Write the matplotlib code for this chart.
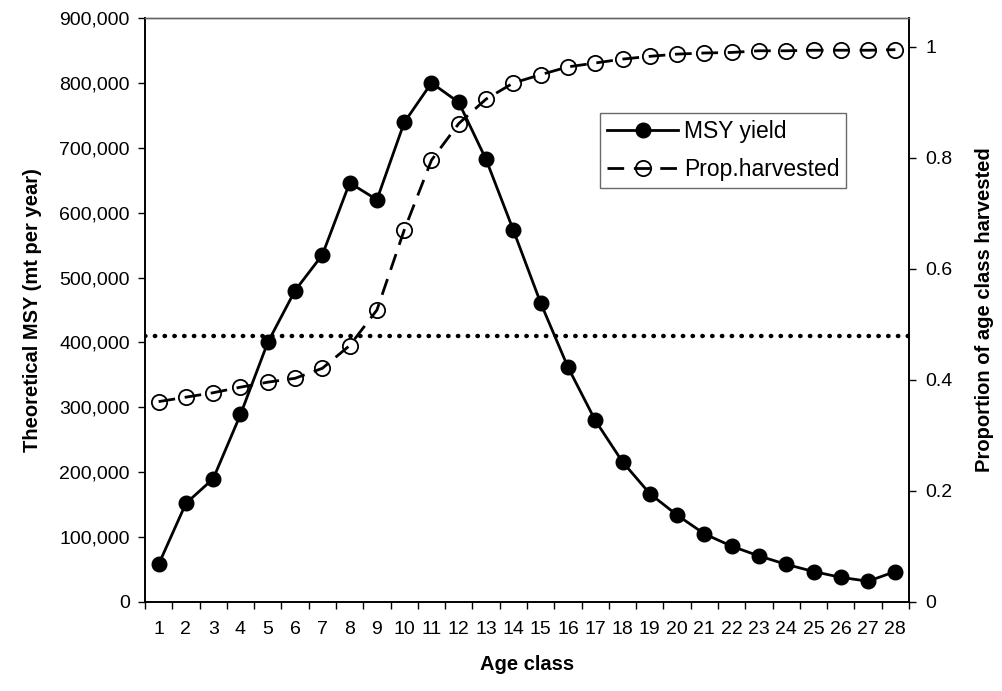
import matplotlib
matplotlib.use("Agg")
import matplotlib.pyplot as plt
from matplotlib.ticker import FuncFormatter, FixedLocator, NullFormatter

plt.rcParams['font.family'] = ['Liberation Sans', 'DejaVu Sans']

# Age classes and results
age_class = list(range(1, 29))
msy_yield = [58000, 152000, 190000, 289000, 400000, 480000, 535000, 646000,
             620000, 739000, 800000, 770000, 682000, 573000, 461000, 362000,
             280000, 216000, 167000, 134000, 105000, 86000, 71000, 58000,
             47000, 38000, 32000, 47000]
prop_harvested = [0.361, 0.369, 0.377, 0.387, 0.396, 0.403, 0.421, 0.462,
                  0.526, 0.670, 0.796, 0.862, 0.906, 0.935, 0.950, 0.964,
                  0.971, 0.978, 0.983, 0.987, 0.989, 0.990, 0.993, 0.993,
                  0.994, 0.994, 0.994, 0.995]
reference_level = 410000

left_ticks = [0, 100000, 200000, 300000, 400000, 500000, 600000, 700000, 800000, 900000]
right_ticks = [0, 0.2, 0.4, 0.6, 0.8, 1.0]

fig = plt.figure(figsize=(10.02, 6.91), dpi=100)
ax = fig.add_axes([0.1447, 0.1288, 0.7625, 0.8451])
ax2 = ax.twinx()

# MSY yield on the primary axis
l1, = ax.plot(age_class, msy_yield, color='black', lw=2, marker='o',
              markersize=10.5, markerfacecolor='black', markeredgecolor='black',
              label='MSY yield', zorder=4)
ax.axhline(reference_level, color='black', lw=3.2, linestyle=(0, (0.1, 2.1)),
           dash_capstyle='round', zorder=3)

# Proportion harvested on the secondary axis
l2, = ax2.plot(age_class, prop_harvested, color='black', lw=2,
               linestyle=(0, (6, 3.5)), marker='o', markersize=11,
               markerfacecolor='none', markeredgecolor='black',
               markeredgewidth=1.3, label='Prop.harvested', zorder=4)

ax.set_xlim(0.5, 28.5)
ax.set_ylim(0, 900000)
ax2.set_ylim(0, 1.052)

ax.yaxis.set_major_locator(FixedLocator(left_ticks))
ax.yaxis.set_major_formatter(FuncFormatter(lambda v, p: f"{int(v):,}"))
ax2.yaxis.set_major_locator(FixedLocator(right_ticks))
ax2.yaxis.set_major_formatter(FuncFormatter(lambda v, p: f"{v:g}"))

# category labels at centres, tick marks at category boundaries
ax.xaxis.set_major_locator(FixedLocator(age_class))
ax.set_xticklabels([str(a) for a in age_class])
ax.xaxis.set_minor_locator(FixedLocator([a + 0.5 for a in range(0, 29)]))
ax.xaxis.set_minor_formatter(NullFormatter())
ax.tick_params(axis='x', which='major', length=0, pad=14, labelsize=14)
ax.tick_params(axis='x', which='minor', length=5, width=1, direction='out')
ax.tick_params(axis='y', length=5, width=1, direction='out', labelsize=14, pad=6)
ax2.tick_params(axis='y', length=5, width=1, direction='out', labelsize=14, pad=7)

for a in (ax, ax2):
    for s in ('left', 'right', 'bottom'):
        a.spines[s].set_color('black')
        a.spines[s].set_linewidth(1.2)
    a.spines['top'].set_color('#666666')
    a.spines['top'].set_linewidth(1.0)

ax.set_xlabel('Age class', fontsize=14.5, fontweight='bold', labelpad=12)
ax.set_ylabel('Theoretical MSY (mt per year)', fontsize=14.5, fontweight='bold', labelpad=12)
ax2.set_ylabel('Proportion of age class harvested', fontsize=14.5, fontweight='bold', labelpad=16)

leg = ax2.legend(handles=[l1, l2], loc='upper left', bbox_to_anchor=(0.596, 0.837),
                 borderaxespad=0, fontsize=16.5, frameon=True, fancybox=False,
                 edgecolor='#444444', handlelength=3.1, handletextpad=0.25,
                 borderpad=0.3, labelspacing=0.65)
leg.get_frame().set_linewidth(1.0)

fig.savefig('out.png', dpi=100)
